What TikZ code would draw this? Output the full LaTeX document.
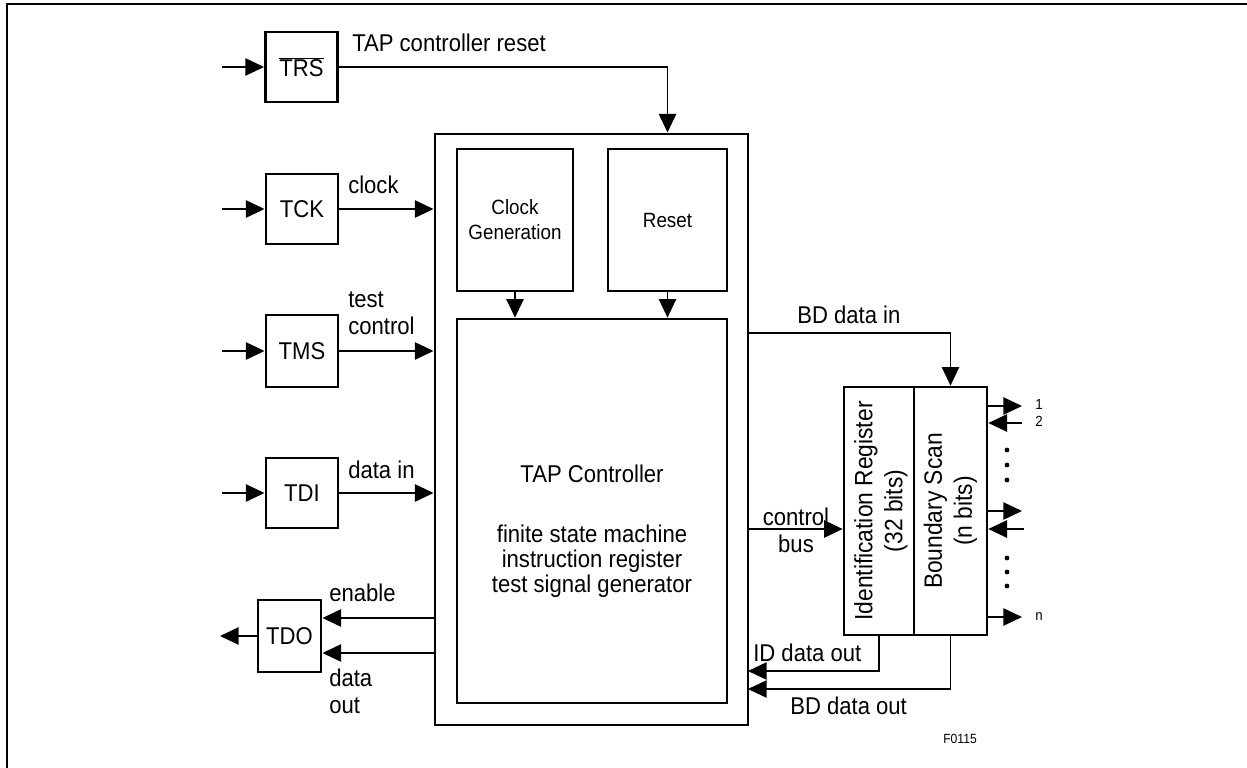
\documentclass[tikz,border=0pt]{standalone}
\usepackage{fontspec}
\setmainfont[FakeStretch=0.91]{Liberation Sans}
\usetikzlibrary{arrows.meta}
\newdimen\pxu \pxu=0.75pt
\begin{document}
\begin{tikzpicture}[x=0.75pt,y=-0.75pt,
  every node/.style={inner sep=0pt},
  lbl/.style={font=\fontsize{18.2}{20}\selectfont},
  small/.style={font=\fontsize{11}{12}\selectfont},
  pinbox/.style={draw, line width=2.2pt, minimum width=72\pxu, minimum height=70\pxu, font=\fontsize{18.2}{20}\selectfont},
  bigbox/.style={draw, line width=2.2pt},
  innerbox/.style={draw, line width=2pt},
  wire/.style={line width=1.2pt},
  arr/.style={wire, -{Triangle[length=14pt,width=13pt]}},
]
\useasboundingbox (0,0) rectangle (1247,768);
% frame
\draw[line width=1.5pt] (7,768) -- (7,4) -- (1247,4);

% pin boxes
\node[pinbox] (trs) at (301.5,67) {$\overline{\mbox{TRS}}$};
\node[pinbox] (tck) at (302,209) {TCK};
\node[pinbox, minimum height=72\pxu] (tms) at (302,351) {TMS};
\node[pinbox] (tdi) at (302,493) {TDI};
\node[pinbox, minimum width=63\pxu, minimum height=72\pxu] (tdo) at (289.5,636) {TDO};

% main boxes
\node[bigbox, minimum width=313\pxu, minimum height=591\pxu] (outer) at (591.5,429.5) {};
\node[innerbox, minimum width=116\pxu, minimum height=142\pxu, align=center,
      font=\fontsize{15.5}{18.75}\selectfont] (clk) at (515,220) {Clock\\Generation};
\node[innerbox, minimum width=119\pxu, minimum height=142\pxu,
      font=\fontsize{15.5}{18.75}\selectfont] (reset) at (667.5,220) {Reset};
\node[innerbox, minimum width=270\pxu, minimum height=384\pxu] (tap) at (592,511) {};
\node[align=center, font=\fontsize{18.2}{18.75}\selectfont] (taptext) at (592,531)
  {TAP Controller\\[26.25pt]finite state machine\\instruction register\\test signal generator};

% registers
\node[innerbox, minimum width=70\pxu, minimum height=248\pxu] (idreg) at (879,511) {};
\node[innerbox, minimum width=73\pxu, minimum height=248\pxu] (bs) at (950.5,511) {};
\node[rotate=90, align=center, font=\fontsize{18.8}{22.5}\selectfont] (idtext) at (881,511) {Identification Register\\(32 bits)};
\node[rotate=90, align=center, font=\fontsize{18.8}{22.5}\selectfont] (bstext) at (950.5,511) {Boundary Scan\\(n bits)};

% coordinates
\coordinate (trsin) at (222,67);
\coordinate (tckin) at (222,209);
\coordinate (tmsin) at (222,351);
\coordinate (tdiin) at (222,493);
\coordinate (tdoout) at (220,636);
\coordinate (en) at (435,618);
\coordinate (dout) at (435,653);
\coordinate (bdin) at (748,333);
\coordinate (cbus) at (748,529);
\coordinate (idout) at (748,671);
\coordinate (bdout) at (748,689);
\coordinate (p1) at (1022,406);
\coordinate (p2) at (1022,423);
\coordinate (p3) at (1022,511);
\coordinate (p4) at (1024,529);
\coordinate (pn) at (1022,617);

% input arrows
\draw[arr] (trsin) -- (trs.west);
\draw[arr] (tckin) -- (tck.west);
\draw[arr] (tmsin) -- (tms.west);
\draw[arr] (tdiin) -- (tdi.west);
\draw[arr] (tdo.west) -- (tdoout);

% pin to controller
\draw[arr] (trs.east) -| (reset.north |- outer.north);
\draw[arr] (tck.east) -- (outer.west |- tck.east);
\draw[arr] (tms.east) -- (outer.west |- tms.east);
\draw[arr] (tdi.east) -- (outer.west |- tdi.east);
\draw[arr] (en) -- (en -| tdo.east);
\draw[arr] (dout) -- (dout -| tdo.east);

% inner
\draw[arr] (clk.south) -- (clk.south |- tap.north);
\draw[arr] (reset.south) -- (reset.south |- tap.north);

% right side
\draw[arr] (bdin) -| (bs.north);
\draw[arr] (cbus) -- (cbus -| idreg.west);
\draw[arr] (idreg.south) |- (idout);
\draw[arr] (bs.south) |- (bdout);

% boundary pins
\draw[arr] (bs.east |- p1) -- (p1);
\draw[arr] (p2) -- (p2 -| bs.east);
\draw[arr] (bs.east |- p3) -- (p3);
\draw[arr] (p4) -- (p4 -| bs.east);
\draw[arr] (bs.east |- pn) -- (pn);
\foreach \yy in {450,465,480,558,572,586} \fill (1007,\yy) circle (1.8pt);

% labels
\node[lbl, anchor=west] (l1) at (352,43) {TAP controller reset};
\node[lbl, anchor=west] (l2) at (348,185) {clock};
\node[lbl, anchor=west, align=left] (l3) at (348,313) {test\\control};
\node[lbl, anchor=west] (l4) at (348,470) {data in};
\node[lbl, anchor=west] (l5) at (329,593) {enable};
\node[lbl, anchor=west, align=left] (l6) at (329,691) {data\\out};
\node[lbl, anchor=west] (l7) at (797,315) {BD data in};
\node[lbl, align=center] (l8) at (796,530) {control\\bus};
\node[lbl, anchor=west] (l9) at (753,653) {ID data out};
\node[lbl, anchor=west] (l10) at (790,706) {BD data out};
\node[small, anchor=west] (n1) at (1035,404) {1};
\node[small, anchor=west] (n2) at (1035,421) {2};
\node[small, anchor=west] (nn) at (1035,617) {n};
\node[font=\fontsize{10}{11}\selectfont, anchor=west] (fig) at (943,739) {F0115};
\end{tikzpicture}
\end{document}
